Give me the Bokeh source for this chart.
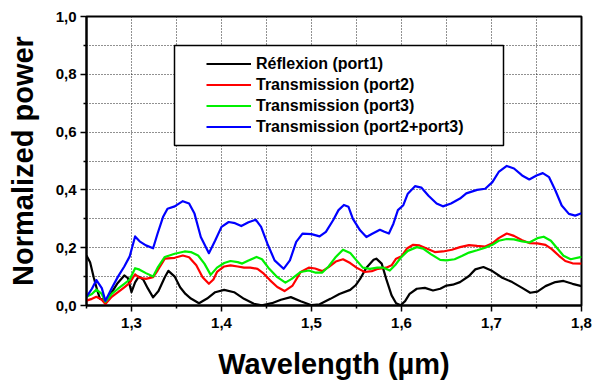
from bokeh.plotting import figure
from bokeh.models import (ColumnDataSource, FixedTicker, Legend, LegendItem,
                          BoxAnnotation, Range1d)
from bokeh.embed import file_html
from bokeh.resources import INLINE

FONT = "Liberation Sans"

# Axis ticks and their labels (comma decimal separator)
x_ticks = [1.3, 1.4, 1.5, 1.6, 1.7, 1.8]
x_tick_labels = ["1,3", "1,4", "1,5", "1,6", "1,7", "1,8"]
x_minor_ticks = [1.25, 1.35, 1.45, 1.55, 1.65, 1.75]
y_ticks = [0.0, 0.2, 0.4, 0.6, 0.8, 1.0]
y_tick_labels = ["0,0", "0,2", "0,4", "0,6", "0,8", "1,0"]
y_minor_ticks = [0.1, 0.3, 0.5, 0.7, 0.9]

series_names = ["Réflexion (port1)", "Transmission (port2)",
                "Transmission (port3)", "Transmission (port2+port3)"]
series_colors = ["#000000", "#ff0000", "#00f000", "#0000ff"]

# Reflected power at port 1
refl_wl = [1.250, 1.254, 1.258, 1.262, 1.265, 1.271, 1.277, 1.284, 1.292, 1.296,
           1.300, 1.304, 1.308, 1.313, 1.318, 1.324, 1.330, 1.337, 1.341, 1.348,
           1.354, 1.360, 1.366, 1.375, 1.384, 1.393, 1.403, 1.414, 1.425, 1.436,
           1.445, 1.456, 1.466, 1.477, 1.488, 1.500, 1.509, 1.521, 1.531, 1.543,
           1.549, 1.554, 1.561, 1.569, 1.572, 1.578, 1.583, 1.589, 1.594, 1.599,
           1.604, 1.609, 1.617, 1.626, 1.635, 1.643, 1.650, 1.657, 1.665, 1.675,
           1.682, 1.691, 1.701, 1.712, 1.723, 1.734, 1.743, 1.751, 1.760, 1.771,
           1.780, 1.790, 1.800]
refl_p = [0.173, 0.150, 0.098, 0.052, 0.023, 0.020, 0.040, 0.075, 0.104, 0.095,
          0.046, 0.080, 0.100, 0.090, 0.060, 0.028, 0.050, 0.098, 0.120, 0.100,
          0.063, 0.040, 0.024, 0.008, 0.024, 0.046, 0.054, 0.046, 0.023, 0.006,
          0.001, 0.008, 0.020, 0.029, 0.015, 0.001, 0.004, 0.023, 0.040, 0.054,
          0.070, 0.092, 0.131, 0.158, 0.162, 0.145, 0.092, 0.035, 0.008, 0.001,
          0.015, 0.040, 0.058, 0.061, 0.052, 0.058, 0.069, 0.072, 0.081, 0.102,
          0.125, 0.133, 0.119, 0.096, 0.081, 0.061, 0.044, 0.048, 0.067, 0.081,
          0.085, 0.075, 0.067]

# Transmitted power at port 2
t2_wl = [1.250, 1.256, 1.261, 1.267, 1.271, 1.278, 1.285, 1.292, 1.298, 1.304,
         1.309, 1.316, 1.324, 1.329, 1.337, 1.348, 1.357, 1.364, 1.372, 1.379,
         1.386, 1.391, 1.395, 1.403, 1.410, 1.418, 1.425, 1.432, 1.440, 1.447,
         1.454, 1.462, 1.470, 1.479, 1.488, 1.497, 1.504, 1.512, 1.519, 1.527,
         1.535, 1.543, 1.550, 1.559, 1.567, 1.574, 1.583, 1.589, 1.594, 1.600,
         1.606, 1.613, 1.620, 1.628, 1.637, 1.646, 1.656, 1.665, 1.675, 1.684,
         1.693, 1.701, 1.708, 1.717, 1.725, 1.734, 1.742, 1.751, 1.760, 1.767,
         1.775, 1.782, 1.790, 1.800]
t2_p = [0.017, 0.023, 0.030, 0.020, 0.005, 0.030, 0.046, 0.063, 0.078, 0.108,
        0.096, 0.092, 0.098, 0.121, 0.162, 0.165, 0.173, 0.167, 0.139, 0.098,
        0.075, 0.090, 0.116, 0.135, 0.139, 0.135, 0.131, 0.131, 0.127, 0.110,
        0.087, 0.064, 0.050, 0.069, 0.116, 0.131, 0.128, 0.119, 0.133, 0.152,
        0.160, 0.147, 0.131, 0.116, 0.119, 0.127, 0.131, 0.139, 0.162, 0.170,
        0.197, 0.210, 0.208, 0.197, 0.185, 0.187, 0.193, 0.202, 0.209, 0.206,
        0.204, 0.215, 0.233, 0.249, 0.241, 0.226, 0.216, 0.215, 0.210, 0.195,
        0.172, 0.154, 0.146, 0.145]

# Transmitted power at port 3
t3_wl = [1.250, 1.256, 1.261, 1.267, 1.271, 1.278, 1.285, 1.292, 1.298, 1.304,
         1.309, 1.316, 1.324, 1.329, 1.337, 1.348, 1.359, 1.366, 1.374, 1.381,
         1.388, 1.395, 1.403, 1.410, 1.418, 1.423, 1.430, 1.439, 1.445, 1.452,
         1.462, 1.471, 1.478, 1.488, 1.497, 1.504, 1.512, 1.519, 1.527, 1.535,
         1.543, 1.550, 1.557, 1.565, 1.573, 1.580, 1.587, 1.593, 1.600, 1.607,
         1.617, 1.624, 1.633, 1.643, 1.650, 1.659, 1.667, 1.675, 1.684, 1.693,
         1.701, 1.708, 1.717, 1.725, 1.734, 1.742, 1.751, 1.758, 1.766, 1.773,
         1.780, 1.788, 1.800]
t3_p = [0.030, 0.040, 0.055, 0.040, 0.013, 0.040, 0.058, 0.075, 0.090, 0.129,
        0.124, 0.112, 0.100, 0.131, 0.168, 0.179, 0.187, 0.185, 0.173, 0.145,
        0.106, 0.131, 0.147, 0.154, 0.150, 0.145, 0.156, 0.168, 0.160, 0.131,
        0.098, 0.079, 0.092, 0.116, 0.121, 0.114, 0.114, 0.135, 0.168, 0.193,
        0.182, 0.156, 0.131, 0.127, 0.131, 0.131, 0.121, 0.140, 0.168, 0.189,
        0.202, 0.197, 0.177, 0.158, 0.156, 0.160, 0.171, 0.183, 0.191, 0.200,
        0.210, 0.224, 0.230, 0.229, 0.222, 0.218, 0.233, 0.238, 0.224, 0.198,
        0.172, 0.160, 0.168]

# Total transmitted power (port 2 + port 3)
sum_wl = [1.250, 1.256, 1.261, 1.267, 1.271, 1.278, 1.285, 1.292, 1.298, 1.304,
          1.309, 1.316, 1.324, 1.329, 1.335, 1.340, 1.348, 1.357, 1.364, 1.370,
          1.377, 1.386, 1.393, 1.400, 1.408, 1.415, 1.422, 1.430, 1.438, 1.444,
          1.451, 1.459, 1.469, 1.476, 1.483, 1.490, 1.500, 1.509, 1.516, 1.524,
          1.530, 1.536, 1.541, 1.546, 1.554, 1.561, 1.568, 1.576, 1.581, 1.586,
          1.591, 1.596, 1.602, 1.607, 1.615, 1.622, 1.630, 1.639, 1.646, 1.655,
          1.665, 1.672, 1.684, 1.693, 1.701, 1.708, 1.717, 1.725, 1.734, 1.742,
          1.750, 1.757, 1.764, 1.771, 1.778, 1.786, 1.793, 1.800]
sum_p = [0.030, 0.058, 0.088, 0.060, 0.016, 0.060, 0.100, 0.135, 0.170, 0.239,
         0.222, 0.208, 0.198, 0.249, 0.306, 0.335, 0.343, 0.361, 0.353, 0.318,
         0.237, 0.181, 0.225, 0.272, 0.289, 0.285, 0.275, 0.288, 0.297, 0.272,
         0.214, 0.156, 0.127, 0.156, 0.220, 0.249, 0.247, 0.239, 0.255, 0.295,
         0.330, 0.348, 0.342, 0.300, 0.260, 0.237, 0.249, 0.262, 0.255, 0.249,
         0.283, 0.330, 0.347, 0.387, 0.413, 0.408, 0.380, 0.353, 0.343, 0.353,
         0.370, 0.388, 0.400, 0.404, 0.427, 0.462, 0.483, 0.474, 0.450, 0.436,
         0.450, 0.458, 0.444, 0.398, 0.346, 0.317, 0.311, 0.319]

p = figure(width=592, height=383,
           x_range=Range1d(1.25, 1.8), y_range=Range1d(0.0, 1.0),
           output_backend="svg", toolbar_location=None,
           min_border_left=86, min_border_right=11,
           min_border_top=16, min_border_bottom=78,
           background_fill_color="white", border_fill_color="white")

p.outline_line_color = "black"
p.outline_line_width = 2
p.outline_line_alpha = 1.0

# Ticks, tick labels and dotted grid
p.xaxis.ticker = FixedTicker(ticks=x_ticks, minor_ticks=x_minor_ticks)
p.yaxis.ticker = FixedTicker(ticks=y_ticks, minor_ticks=y_minor_ticks)
p.xaxis.major_label_overrides = dict(zip(x_ticks, x_tick_labels))
p.yaxis.major_label_overrides = dict(zip(y_ticks, y_tick_labels))
p.xgrid.ticker = p.xaxis.ticker
p.ygrid.ticker = p.yaxis.ticker

for g in (p.xgrid, p.ygrid):
    g.grid_line_color = "#222222"
    g.grid_line_dash = "1 2"
    g.grid_line_width = 1
    g.minor_grid_line_color = "#222222"
    g.minor_grid_line_dash = "1 2"
    g.minor_grid_line_width = 1

for ax in (p.xaxis, p.yaxis):
    ax.axis_line_width = 2
    ax.axis_line_color = "black"
    ax.major_tick_line_width = 1.5
    ax.minor_tick_line_width = 1.5
    ax.major_tick_in = 0
    ax.major_tick_out = 6
    ax.minor_tick_in = 0
    ax.minor_tick_out = 3
    ax.major_label_text_font = FONT
    ax.major_label_text_font_style = "bold"
    ax.major_label_text_font_size = "15px"
    ax.major_label_text_color = "black"
    ax.axis_label_text_font = FONT
    ax.axis_label_text_font_style = "bold"
    ax.axis_label_text_font_size = "29px"
    ax.axis_label_text_color = "black"

p.xaxis.axis_label = "Wavelength (µm)"
p.yaxis.axis_label = "Normalized power"
p.xaxis.major_label_standoff = 6
p.yaxis.major_label_standoff = 4
p.xaxis.axis_label_standoff = 17
p.yaxis.axis_label_standoff = 14

# Spectra
series = [(refl_wl, refl_p), (t2_wl, t2_p), (t3_wl, t3_p), (sum_wl, sum_p)]
items = []
for (wl, pw), name, color in zip(series, series_names, series_colors):
    src = ColumnDataSource(data=dict(wl=wl, power=pw))
    r = p.line("wl", "power", source=src, line_color=color, line_width=2.2,
               line_join="round")
    items.append(LegendItem(label=name, renderers=[r]))

# Legend frame
legend_box = BoxAnnotation(left=88, right=417, top=260, bottom=160,
                           left_units="screen", right_units="screen",
                           top_units="screen", bottom_units="screen",
                           fill_color="white", fill_alpha=1.0,
                           line_color="black", line_width=1.5, line_alpha=1.0)
p.add_layout(legend_box)

legend = Legend(items=items, location=(120, 168),
                padding=0, spacing=0, margin=0,
                glyph_width=45, glyph_height=21, label_height=21,
                label_standoff=5,
                border_line_color=None, background_fill_alpha=0.0,
                label_text_font=FONT, label_text_font_style="bold",
                label_text_font_size="16px", label_text_color="black")
p.add_layout(legend, "center")

open("out.html", "w").write(file_html(p, INLINE))
